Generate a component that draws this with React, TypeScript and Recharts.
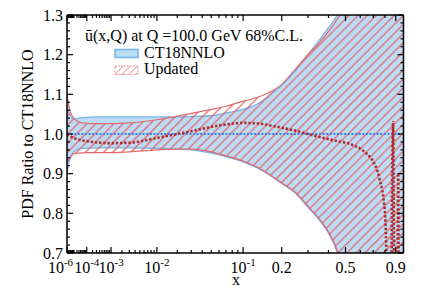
import React from 'react';
import { ComposedChart, Area, Line, XAxis, YAxis } from 'recharts';

// ---------- data ----------
const xGrid = [1e-6, 2e-6, 5e-6, 1e-5, 3e-5, 1e-4, 3e-4, 1e-3, 3e-3, 1e-2, 2e-2, 3e-2, 5e-2, 0.07, 0.1, 0.13, 0.16, 0.2, 0.25, 0.3, 0.35, 0.4, 0.45, 0.5, 0.55, 0.6, 0.65, 0.7, 0.75, 0.8, 0.85, 0.9, 0.95, 0.978];
const ct18Upper = [1.07, 1.055, 1.042, 1.038, 1.04, 1.042, 1.043, 1.043, 1.043, 1.043, 1.043, 1.044, 1.046, 1.053, 1.062, 1.075, 1.095, 1.123, 1.16, 1.2, 1.235, 1.268, 1.3, 1.35, 1.45, 1.6, 1.8, 2.0, 2.3, 2.6, 3.0, 3.0, 3.0, 3.0];
const ct18Lower = [0.898, 0.925, 0.945, 0.955, 0.962, 0.964, 0.965, 0.965, 0.965, 0.964, 0.962, 0.96, 0.952, 0.943, 0.93, 0.915, 0.898, 0.875, 0.85, 0.815, 0.785, 0.75, 0.7, 0.6, 0.45, 0.3, 0.1, 0, 0, 0, 0, 0, 0, 0];
const updUpper = [1.1, 1.075, 1.05, 1.04, 1.03, 1.027, 1.026, 1.026, 1.028, 1.036, 1.045, 1.052, 1.062, 1.07, 1.083, 1.092, 1.104, 1.125, 1.165, 1.2, 1.228, 1.258, 1.29, 1.33, 1.42, 1.55, 1.75, 2.0, 2.3, 2.6, 3.0, 3.0, 3.0, 3.0];
const updLower = [0.925, 0.935, 0.945, 0.95, 0.952, 0.953, 0.953, 0.953, 0.955, 0.96, 0.962, 0.962, 0.955, 0.945, 0.932, 0.917, 0.9, 0.877, 0.852, 0.818, 0.788, 0.753, 0.705, 0.62, 0.47, 0.3, 0.1, 0, 0, 0, 0, 0, 0, 0];

const updCentralX = [1e-6, 1e-5, 1e-4, 1e-3, 3e-3, 1e-2, 2e-2, 3e-2, 5e-2, 0.07, 0.1, 0.13, 0.16, 0.2, 0.25, 0.3, 0.35, 0.4, 0.45, 0.5, 0.55, 0.6, 0.65, 0.7, 0.75, 0.8, 0.83, 0.855, 0.866, 0.875, 0.886, 0.905, 0.918, 0.924, 0.932, 0.95];
const updCentral = [1.0, 0.99, 0.982, 0.977, 0.978, 0.99, 1.0, 1.007, 1.018, 1.024, 1.028, 1.027, 1.022, 1.016, 1.008, 1.0, 0.993, 0.987, 0.982, 0.978, 0.972, 0.963, 0.95, 0.93, 0.89, 0.8, 0.55, 0.5, 0.9, 1.03, 0.6, 0.4, 0.5, 0.9, 0.5, 0.4];

const ct18CentralX = [1e-6, 0.94];
const ct18Central = [1.0, 1.0];

const xMajorTicks = [1e-6, 1e-4, 1e-3, 1e-2, 0.1, 0.2, 0.5, 0.9];
const xTickLabels = ['10^-6', '10^-4', '10^-3', '10^-2', '10^-1', '0.2', '0.5', '0.9'];
const xMinorTicks = [
  2e-6, 3e-6, 4e-6, 5e-6, 6e-6, 7e-6, 8e-6, 9e-6, 1e-5,
  2e-5, 3e-5, 4e-5, 5e-5, 6e-5, 7e-5, 8e-5, 9e-5,
  2e-4, 3e-4, 4e-4, 5e-4, 6e-4, 7e-4, 8e-4, 9e-4,
  2e-3, 3e-3, 4e-3, 5e-3, 6e-3, 7e-3, 8e-3, 9e-3,
  2e-2, 3e-2, 4e-2, 5e-2, 6e-2, 7e-2, 8e-2, 9e-2,
  0.3, 0.4, 0.6, 0.7, 0.8,
];
const yMajorTicks = [0.7, 0.8, 0.9, 1.0, 1.1, 1.2, 1.3];
const yTickLabels = ['0.7', '0.8', '0.9', '1.0', '1.1', '1.2', '1.3'];
const yMinorTicks = [0.72, 0.74, 0.76, 0.78, 0.82, 0.84, 0.86, 0.88, 0.92, 0.94, 0.96, 0.98, 1.02, 1.04, 1.06, 1.08, 1.12, 1.14, 1.16, 1.18, 1.22, 1.24, 1.26, 1.28];

const titleText = 'ū(x,Q) at Q =100.0 GeV 68%C.L.';
const legendNames = ['CT18NNLO', 'Updated'];
const yAxisTitle = 'PDF Ratio to CT18NNLO';
const xAxisTitle = 'x';

// ---------- axis transform (power scale) ----------
const POW = 0.275;
const tf = (x: number) => Math.pow(x, POW);
const X_MIN = 1e-6;
const X_MAX = 0.978;

const bandData = xGrid.map((x, i) => ({
  t: tf(x),
  ct: [ct18Lower[i], ct18Upper[i]],
  upd: [updLower[i], updUpper[i]],
}));
const updCentralData = updCentralX.map((x, i) => ({ t: tf(x), v: updCentral[i] }));
const ctCentralData = ct18CentralX.map((x, i) => ({ t: tf(x), v: ct18Central[i] }));

const xMajorT = xMajorTicks.map(tf);
const xAllT = [...xMajorTicks, ...xMinorTicks].map(tf).sort((a, b) => a - b);
const yAll = [...yMajorTicks, ...yMinorTicks].sort((a, b) => a - b);

const FONT = '"Liberation Serif", "Times New Roman", serif';
const BLUE_FILL = '#bcdcf6';
const BLUE_EDGE = '#74b2ee';
const RED = '#e06a6a';
const DARK_RED = '#b02c2c';
const BLUE_DOT = '#3f7de2';

const findIdx = (arr: number[], v: number) => arr.findIndex((a) => Math.abs(a - v) < 1e-9);

const renderLabel = (lab: string, x: number, y: number, dx: number) => {
  const parts = lab.split('^');
  return (
    <text x={x + dx} y={y} textAnchor="middle" fontFamily={FONT} fontSize={16} fill="#000">
      <tspan>{parts[0]}</tspan>
      {parts[1] !== undefined && (
        <tspan dy={-7} fontSize={11}>{parts[1]}</tspan>
      )}
    </text>
  );
};

const BottomTick = (props: any) => {
  const { x, y, payload } = props;
  const i = findIdx(xMajorT, payload.value);
  const len = i >= 0 ? 6 : 3;
  return (
    <g>
      <line x1={x} x2={x} y1={y} y2={y - len} stroke="#000" strokeWidth={1.2} />
      {i >= 0 && renderLabel(xTickLabels[i], x, y + 20, i === 0 ? -6.5 : 0)}
    </g>
  );
};

const TopTick = (props: any) => {
  const { x, y, payload } = props;
  const i = findIdx(xMajorT, payload.value);
  const len = i >= 0 ? 6 : 3;
  return <line x1={x} x2={x} y1={y} y2={y + len} stroke="#000" strokeWidth={1.2} />;
};

const LeftTick = (props: any) => {
  const { x, y, payload } = props;
  const i = findIdx(yMajorTicks, payload.value);
  const len = i >= 0 ? 6 : 3;
  return (
    <g>
      <line x1={x} x2={x + len} y1={y} y2={y} stroke="#000" strokeWidth={1.2} />
      {i >= 0 && (
        <text x={x - 4} y={y + 5.5} textAnchor="end" fontFamily={FONT} fontSize={16} fill="#000">
          {yTickLabels[i]}
        </text>
      )}
    </g>
  );
};

const RightTick = (props: any) => {
  const { x, y, payload } = props;
  const i = findIdx(yMajorTicks, payload.value);
  const len = i >= 0 ? 6 : 3;
  return <line x1={x} x2={x - len} y1={y} y2={y} stroke="#000" strokeWidth={1.2} />;
};

export default function App() {
  const W = 413;
  const H = 287;
  return (
    <div style={{ position: 'relative', width: W, height: H }}>
      <ComposedChart width={W} height={H} data={bandData} margin={{ top: 6, right: 16.5, bottom: 0, left: 0 }}>
        <defs>
          <pattern id="hatchUpd" patternUnits="userSpaceOnUse" width="6.4" height="6.4" patternTransform="rotate(45)">
            <line x1="3.2" y1="0" x2="3.2" y2="6.4" stroke={RED} strokeWidth="1.3" />
          </pattern>
        </defs>
        <XAxis
          dataKey="t"
          type="number"
          domain={[tf(X_MIN), tf(X_MAX)]}
          allowDataOverflow
          ticks={xAllT}
          interval={0}
          height={42}
          tickSize={0}
          tickMargin={0}
          tickLine={false}
          axisLine={{ stroke: '#000', strokeWidth: 1.5 }}
          tick={BottomTick}
        />
        <XAxis
          xAxisId="top"
          orientation="top"
          dataKey="t"
          type="number"
          domain={[tf(X_MIN), tf(X_MAX)]}
          allowDataOverflow
          ticks={xAllT}
          interval={0}
          height={1}
          tickSize={0}
          tickMargin={0}
          tickLine={false}
          axisLine={{ stroke: '#000', strokeWidth: 1.5 }}
          tick={TopTick}
        />
        <YAxis
          type="number"
          domain={[0.7, 1.3]}
          allowDataOverflow
          ticks={yAll}
          interval={0}
          width={59}
          tickSize={0}
          tickMargin={0}
          tickLine={false}
          axisLine={{ stroke: '#000', strokeWidth: 1.5 }}
          tick={LeftTick}
        />
        <YAxis
          yAxisId="right"
          orientation="right"
          type="number"
          domain={[0.7, 1.3]}
          allowDataOverflow
          ticks={yAll}
          interval={0}
          width={1}
          tickSize={0}
          tickMargin={0}
          tickLine={false}
          axisLine={{ stroke: '#000', strokeWidth: 1.5 }}
          tick={RightTick}
        />
        <Area
          dataKey="ct"
          type="monotone"
          fill={BLUE_FILL}
          fillOpacity={1}
          stroke={BLUE_EDGE}
          strokeWidth={1.3}
          isAnimationActive={false}
          dot={false}
          activeDot={false}
        />
        <Area
          dataKey="upd"
          type="monotone"
          fill="url(#hatchUpd)"
          fillOpacity={1}
          stroke={RED}
          strokeWidth={1.2}
          isAnimationActive={false}
          dot={false}
          activeDot={false}
        />
        <Line
          data={ctCentralData}
          dataKey="v"
          type="linear"
          stroke={BLUE_DOT}
          strokeWidth={2}
          strokeDasharray="2 1.6"
          dot={false}
          activeDot={false}
          isAnimationActive={false}
        />
        <Line
          data={updCentralData}
          dataKey="v"
          type="monotone"
          stroke={DARK_RED}
          strokeWidth={2.6}
          strokeDasharray="2.4 1.8"
          dot={false}
          activeDot={false}
          isAnimationActive={false}
        />
      </ComposedChart>
      <svg
        width={W}
        height={H}
        style={{ position: 'absolute', left: 0, top: 0, pointerEvents: 'none' }}
      >
        <defs>
          <pattern id="hatchLeg" patternUnits="userSpaceOnUse" width="5" height="5" patternTransform="rotate(45)">
            <line x1="2.5" y1="0" x2="2.5" y2="5" stroke="#e99" strokeWidth="1" />
          </pattern>
        </defs>
        <text x={77} y={33} fontFamily={FONT} fontSize={16} fill="#000">{titleText}</text>
        <rect x={107} y={41.5} width={23} height={8} fill={BLUE_FILL} stroke={BLUE_EDGE} strokeWidth={1.5} />
        <text x={136} y={50} fontFamily={FONT} fontSize={16} fill="#000">{legendNames[0]}</text>
        <rect x={107} y={58} width={23} height={8.5} fill="url(#hatchLeg)" stroke="#e99" strokeWidth={1} strokeDasharray="2 1" />
        <text x={136} y={66} fontFamily={FONT} fontSize={16} fill="#000">{legendNames[1]}</text>
        <text
          transform="rotate(-90)"
          x={-126}
          y={25}
          textAnchor="middle"
          fontFamily={FONT}
          fontSize={16}
          fill="#000"
        >
          {yAxisTitle}
        </text>
        <text x={228} y={277} textAnchor="middle" fontFamily={FONT} fontSize={16} fill="#000">{xAxisTitle}</text>
      </svg>
    </div>
  );
}
